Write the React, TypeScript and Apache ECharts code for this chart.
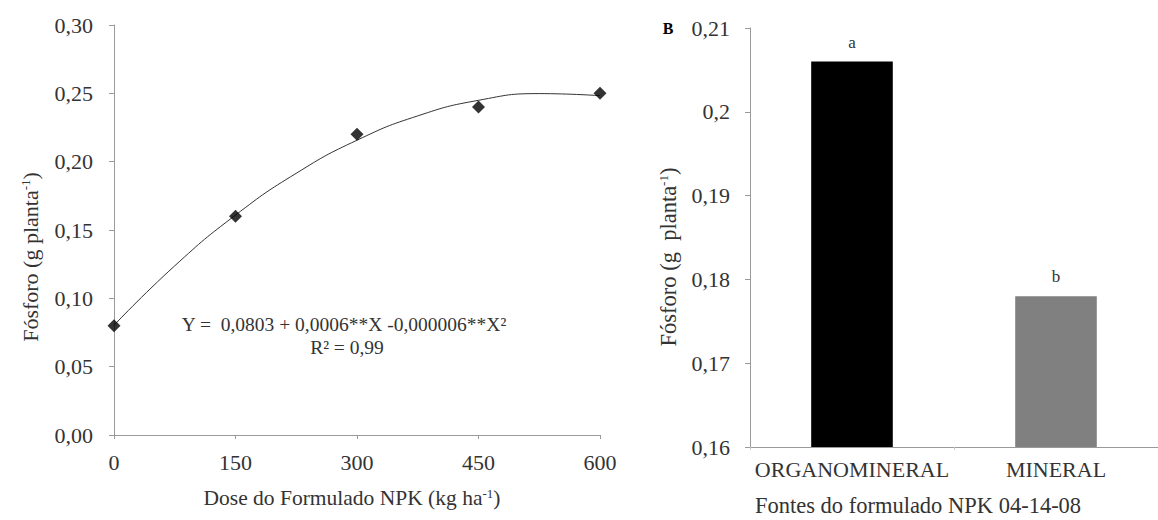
import React, { useEffect, useRef } from "react";
import * as echarts from "echarts";

const doses = [0, 150, 300, 450, 600];
const fosforo = [0.08, 0.16, 0.22, 0.24, 0.25];
const trendX = [0, 75, 150, 225, 300, 375, 450, 525, 600];
const trendY = [0.0803, 0.1238, 0.1609, 0.1915, 0.2157, 0.2335, 0.2449, 0.2498, 0.2483];
const sources = ["ORGANOMINERAL", "MINERAL"];
const sourceValues = [0.206, 0.178];
const sourceLetters = ["a", "b"];
const sourceColors = ["#000000", "#808080"];

const FONT = "Liberation Serif";
const TXT = "#333";
const AX = "#9a9a9a";

function fmt2(v: number) {
  return v.toFixed(2).replace(".", ",");
}
function fmtTrim(v: number) {
  return String(Math.round(v * 100) / 100).replace(".", ",");
}

export default function App() {
  const ref = useRef<HTMLDivElement>(null);
  useEffect(() => {
    const chart = echarts.init(ref.current!, undefined, { renderer: "svg" });
    const sup = { fontSize: 13, fontFamily: FONT, fill: TXT, padding: [0, 0, 9, 0] };
    chart.setOption({
      animation: false,
      backgroundColor: "#fff",
      textStyle: { fontFamily: FONT },
      grid: [
        { left: 114, top: 25, width: 486, height: 410 },
        { left: 750, top: 28, width: 418, height: 419 },
      ],
      xAxis: [
        {
          gridIndex: 0,
          type: "value",
          min: 0,
          max: 600,
          interval: 150,
          axisLine: { show: true, lineStyle: { color: AX } },
          axisTick: { show: true, length: 4, lineStyle: { color: AX } },
          splitLine: { show: false },
          axisLabel: { fontSize: 22, color: TXT, fontFamily: FONT, margin: 16 },
        },
        {
          gridIndex: 1,
          type: "category",
          data: sources,
          axisLine: { show: true, lineStyle: { color: AX } },
          axisTick: { show: true, length: 3, lineStyle: { color: "#ccc" } },
          axisLabel: { fontSize: 22, color: TXT, fontFamily: FONT, margin: 11, interval: 0, hideOverlap: false },
        },
      ],
      yAxis: [
        {
          gridIndex: 0,
          type: "value",
          min: 0,
          max: 0.3,
          interval: 0.05,
          axisLine: { show: true, lineStyle: { color: AX } },
          axisTick: { show: true, length: 5, lineStyle: { color: AX } },
          splitLine: { show: false },
          axisLabel: { fontSize: 22, color: TXT, fontFamily: FONT, margin: 21, formatter: fmt2 },
        },
        {
          gridIndex: 1,
          type: "value",
          min: 0.16,
          max: 0.21,
          interval: 0.01,
          axisLine: { show: true, lineStyle: { color: AX } },
          axisTick: { show: true, length: 5, lineStyle: { color: AX } },
          splitLine: { show: false },
          axisLabel: { fontSize: 22, color: TXT, fontFamily: FONT, margin: 20, formatter: fmtTrim },
        },
      ],
      series: [
        {
          type: "line",
          xAxisIndex: 0,
          yAxisIndex: 0,
          data: trendX.map((x, i) => [x, trendY[i]]),
          smooth: true,
          showSymbol: false,
          lineStyle: { color: "#333", width: 1 },
          z: 2,
        },
        {
          type: "scatter",
          xAxisIndex: 0,
          yAxisIndex: 0,
          data: doses.map((x, i) => [x, fosforo[i]]),
          symbol: "diamond",
          symbolSize: 13,
          itemStyle: { color: "#000" },
          z: 3,
        },
        {
          type: "bar",
          xAxisIndex: 1,
          yAxisIndex: 1,
          barWidth: "40%",
          data: sourceValues.map((v, i) => ({
            value: v,
            itemStyle: { color: sourceColors[i] },
            label: { formatter: sourceLetters[i] },
          })),
          label: { show: true, position: "top", distance: 11, fontSize: 17, color: TXT, fontFamily: FONT },
        },
      ],
      graphic: [
        {
          type: "text",
          x: 30,
          y: 257,
          rotation: Math.PI / 2,
          style: {
            text: "Fósforo (g planta{sup|-1})",
            fontSize: 22,
            fontFamily: FONT,
            fill: TXT,
            align: "center",
            verticalAlign: "middle",
            rich: { sup },
          },
        },
        {
          type: "text",
          x: 352,
          y: 498,
          style: {
            text: "Dose do Formulado NPK (kg ha{sup|-1})",
            fontSize: 21.5,
            fontFamily: FONT,
            fill: TXT,
            align: "center",
            verticalAlign: "middle",
            rich: { sup },
          },
        },
        {
          type: "text",
          x: 344,
          y: 324,
          style: {
            text: "Y =  0,0803 + 0,0006**X -0,000006**X²",
            fontSize: 19.5,
            fontFamily: FONT,
            fill: TXT,
            align: "center",
            verticalAlign: "middle",
          },
        },
        {
          type: "text",
          x: 347,
          y: 347,
          style: {
            text: "R² = 0,99",
            fontSize: 19.5,
            fontFamily: FONT,
            fill: TXT,
            align: "center",
            verticalAlign: "middle",
          },
        },
        {
          type: "text",
          x: 668,
          y: 257,
          rotation: Math.PI / 2,
          style: {
            text: "Fósforo (g  planta{sup|-1})",
            fontSize: 22.5,
            fontFamily: FONT,
            fill: TXT,
            align: "center",
            verticalAlign: "middle",
            rich: { sup },
          },
        },
        {
          type: "text",
          x: 918,
          y: 505,
          style: {
            text: "Fontes do formulado NPK 04-14-08",
            fontSize: 22.5,
            fontFamily: FONT,
            fill: TXT,
            align: "center",
            verticalAlign: "middle",
          },
        },
        {
          type: "text",
          x: 668,
          y: 28,
          style: {
            text: "B",
            fontSize: 16,
            fontWeight: "bold",
            fontFamily: FONT,
            fill: "#000",
            align: "center",
            verticalAlign: "middle",
          },
        },
      ],
    });
    return () => chart.dispose();
  }, []);
  return (
    <div
      ref={ref}
      style={{ position: "fixed", left: 0, top: 0, width: 1158, height: 520, background: "#fff" }}
    />
  );
}
